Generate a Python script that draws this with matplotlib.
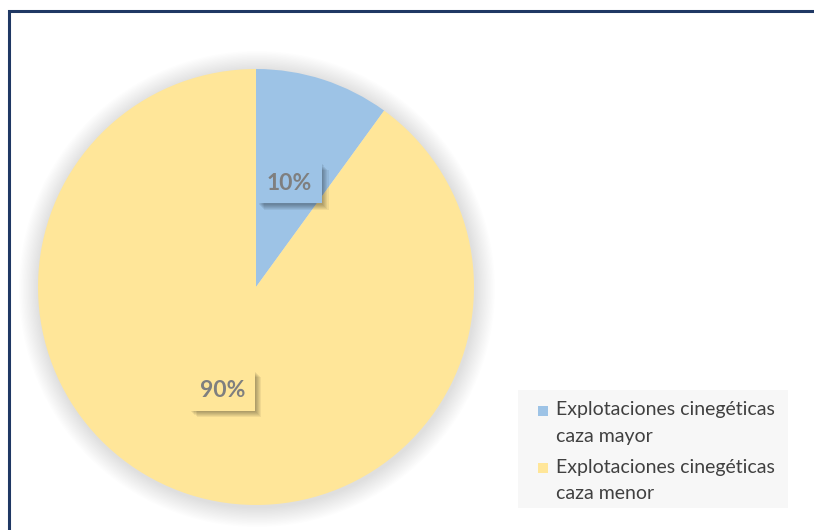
import matplotlib
matplotlib.use("Agg")
import matplotlib.pyplot as plt
from matplotlib.patches import Rectangle, Circle
from matplotlib.legend_handler import HandlerPatch
import matplotlib.patheffects as pe

categories = ["Explotaciones cinegéticas\ncaza mayor", "Explotaciones cinegéticas\ncaza menor"]
values = [10, 90]
colors = ["#9DC3E6", "#FFE699"]

plt.rcParams['font.family'] = ['Lato', 'DejaVu Sans']

W, H = 814, 530
fig = plt.figure(figsize=(W / 100, H / 100), dpi=100)
fig.patch.set_facecolor("white")
ax = fig.add_axes([0, 0, 1, 1])

cx, cy, r = 256, H - 287, 218

# soft shadow around pie
n = 16
for i in range(n):
    rr = r + 20 * (1 - i / n)
    ax.add_patch(Circle((cx + 1, cy - 2), rr, color="black", alpha=0.009, lw=0, zorder=1))

wedges, texts, autotexts = ax.pie(
    values, colors=colors, startangle=90, counterclock=False,
    center=(cx, cy), radius=r, autopct='%1.0f%%', pctdistance=0.5,
    wedgeprops=dict(linewidth=0),
    textprops=dict(fontsize=16.5, fontweight='bold', color='#7F7F7F'),
    frame=True)
ax.set_xlim(0, W)
ax.set_ylim(0, H)
ax.set_aspect('equal')
ax.axis('off')
for w in wedges:
    w.set_zorder(2)

effects = []
for k in range(1, 7):
    effects.append(pe.SimplePatchShadow(offset=(k * 0.8, -k * 0.8), shadow_rgbFace='black', alpha=0.06))
effects.append(pe.Normal())

for t, c in zip(autotexts, colors):
    t.set_zorder(5)
    t.set_bbox(dict(boxstyle='square,pad=0.42', facecolor=c, edgecolor='none'))
    t.get_bbox_patch().set_path_effects(effects)

# border (only top and left visible)
fig.patches.append(Rectangle((8.5 / W, -0.1), 1.2, (H - 10.5) / H + 0.1,
                             transform=fig.transFigure, fill=False,
                             edgecolor='#1F3864', linewidth=2.2))

# legend background
fig.patches.append(Rectangle((518 / W, 1 - 508 / H), 270 / W, 118 / H,
                             transform=fig.transFigure, facecolor='#F7F7F7',
                             edgecolor='none', zorder=0))


class TopSquare(HandlerPatch):
    def create_artists(self, legend, orig_handle, xdescent, ydescent,
                       width, height, fontsize, trans):
        s = 7.2
        yc = -ydescent + height / 2 + 9.0
        p = Rectangle((-xdescent, yc - s / 2), s, s,
                      facecolor=orig_handle.get_facecolor(), edgecolor='none',
                      transform=trans)
        return [p]


leg = fig.legend(wedges, categories, loc='upper left',
                 bbox_to_anchor=(538 / W, 1 - 401 / H),
                 frameon=False, fontsize=14, handlelength=0.72, handleheight=0.6,
                 handletextpad=0.2, labelspacing=0.7, borderpad=0, borderaxespad=0,
                 labelcolor='#404040',
                 handler_map={w: TopSquare() for w in wedges})
for t in leg.get_texts():
    t.set_linespacing(1.71)

fig.savefig("out.png", dpi=100)
